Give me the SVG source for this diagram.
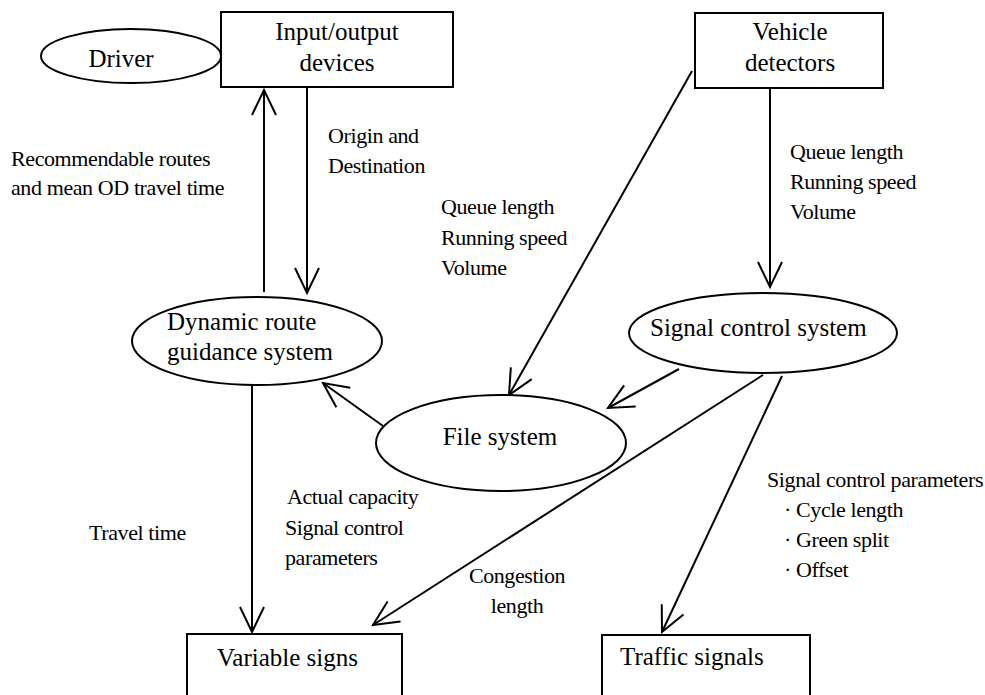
<svg xmlns="http://www.w3.org/2000/svg" width="985" height="695" viewBox="0 0 985 695">
  <defs>
    <style>
      .shape { fill: #ffffff; stroke: #000000; stroke-width: 2; }
      .node-text { font-family: "Liberation Serif", "Times New Roman", serif; font-size: 25px; fill: #000000; }
      .label { font-family: "Liberation Serif", "Times New Roman", serif; font-size: 22px; letter-spacing: -0.4px; fill: #000000; }
      .edge { fill: none; stroke: #000000; stroke-width: 2; marker-end: url(#open-arrow); }
    </style>
    <marker id="open-arrow" markerUnits="userSpaceOnUse" viewBox="-30 -15 32 30" refX="0" refY="0" markerWidth="32" markerHeight="30" orient="auto" overflow="visible">
      <path d="M -25,-12 L 0,0 L -25,12" fill="none" stroke="#000000" stroke-width="2" stroke-linejoin="miter"/>
    </marker>
  </defs>

  <rect width="985" height="695" fill="#ffffff"/>

  <!-- connectors -->
  <g id="connectors">
    <line class="edge" x1="264" y1="292" x2="264" y2="90"/>
    <line class="edge" x1="307" y1="87" x2="307" y2="293"/>
    <line class="edge" x1="770" y1="88" x2="770" y2="287"/>
    <line class="edge" x1="692" y1="71" x2="509" y2="395"/>
    <line class="edge" x1="679" y1="369" x2="608" y2="408"/>
    <line class="edge" x1="383" y1="426" x2="323" y2="383"/>
    <line class="edge" x1="252" y1="385" x2="252" y2="632"/>
    <line class="edge" x1="763" y1="375" x2="373" y2="625"/>
    <line class="edge" x1="782" y1="376" x2="662" y2="632"/>
  </g>

  <!-- nodes -->
  <g id="driver">
    <ellipse class="shape" cx="131" cy="56" rx="90" ry="27"/>
    <text class="node-text" x="121" y="67" text-anchor="middle">Driver</text>
  </g>

  <g id="io-devices">
    <rect class="shape" x="221" y="12" width="232" height="75"/>
    <text class="node-text" x="337" y="40" text-anchor="middle">Input/output</text>
    <text class="node-text" x="337" y="71" text-anchor="middle">devices</text>
  </g>

  <g id="vehicle-detectors">
    <rect class="shape" x="695" y="13" width="188" height="75"/>
    <text class="node-text" x="790" y="40" text-anchor="middle">Vehicle</text>
    <text class="node-text" x="790" y="71" text-anchor="middle">detectors</text>
  </g>

  <g id="route-guidance">
    <ellipse class="shape" cx="257" cy="341" rx="125" ry="44"/>
    <text class="node-text" x="167" y="330">Dynamic route</text>
    <text class="node-text" x="167" y="360">guidance system</text>
  </g>

  <g id="signal-control">
    <ellipse class="shape" cx="763" cy="333" rx="134" ry="40"/>
    <text class="node-text" x="650" y="336">Signal control system</text>
  </g>

  <g id="file-system">
    <ellipse class="shape" cx="501" cy="443" rx="125" ry="48"/>
    <text class="node-text" x="500" y="445" text-anchor="middle">File system</text>
  </g>

  <g id="variable-signs">
    <rect class="shape" x="187" y="634" width="215" height="75"/>
    <text class="node-text" x="217" y="666">Variable signs</text>
  </g>

  <g id="traffic-signals">
    <rect class="shape" x="602" y="635" width="208" height="75"/>
    <text class="node-text" x="620" y="665">Traffic signals</text>
  </g>

  <!-- edge labels -->
  <g id="labels">
    <text class="label" x="11" y="166">Recommendable routes</text>
    <text class="label" x="11" y="195">and mean OD travel time</text>

    <text class="label" x="328" y="143">Origin and</text>
    <text class="label" x="328" y="173">Destination</text>

    <text class="label" x="441" y="214">Queue length</text>
    <text class="label" x="441" y="245">Running speed</text>
    <text class="label" x="441" y="275">Volume</text>

    <text class="label" x="790" y="159">Queue length</text>
    <text class="label" x="790" y="189">Running speed</text>
    <text class="label" x="790" y="219">Volume</text>

    <text class="label" x="287" y="504">Actual capacity</text>
    <text class="label" x="285" y="535">Signal control</text>
    <text class="label" x="285" y="565">parameters</text>

    <text class="label" x="89" y="540">Travel time</text>

    <text class="label" x="517" y="583" text-anchor="middle">Congestion</text>
    <text class="label" x="517" y="613" text-anchor="middle">length</text>

    <text class="label" x="767" y="487">Signal control parameters</text>
    <text class="label" x="784" y="517">· Cycle length</text>
    <text class="label" x="784" y="547">· Green split</text>
    <text class="label" x="784" y="577">· Offset</text>
  </g>
</svg>
